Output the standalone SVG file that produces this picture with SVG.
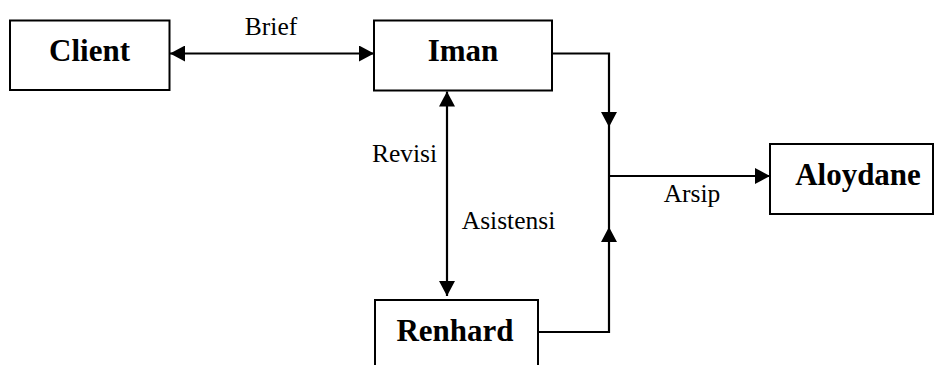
<svg xmlns="http://www.w3.org/2000/svg" width="934" height="365" viewBox="0 0 934 365">
<style>
.box{fill:#fff;stroke:#000;stroke-width:2}
.name{font-family:"Liberation Serif",serif;font-weight:bold;font-size:31px;text-anchor:middle;fill:#000}
.lbl{font-family:"Liberation Serif",serif;font-size:25.5px;text-anchor:middle;fill:#000}
.con{fill:none;stroke:#000;stroke-width:2.2}
</style>
<defs>
<marker id="ah" markerUnits="userSpaceOnUse" viewBox="0 0 15 16" refX="15" refY="8" markerWidth="15" markerHeight="16" orient="auto-start-reverse">
<path d="M0,0 L15,8 L0,16 z" fill="#000"/>
</marker>
</defs>
<rect width="934" height="365" fill="#fff"/>
<g id="connectors">
<path class="con" d="M170,53.5 H374" marker-start="url(#ah)" marker-end="url(#ah)"/>
<path class="con" d="M552,53.5 H609 V127" marker-end="url(#ah)"/>
<path class="con" d="M609,127 V227"/>
<path class="con" d="M609,176 H770" marker-end="url(#ah)"/>
<path class="con" d="M538,332 H609 V227" marker-end="url(#ah)"/>
<path class="con" d="M447,91.5 V296" marker-start="url(#ah)" marker-end="url(#ah)"/>
<text class="lbl" x="271" y="35">Brief</text>
<text class="lbl" x="404.5" y="162">Revisi</text>
<text class="lbl" x="508.5" y="229">Asistensi</text>
<text class="lbl" x="692" y="202">Arsip</text>
</g>
<g id="client">
<rect class="box" x="10" y="20.5" width="159.5" height="69.5"/>
<text class="name" x="89.5" y="61">Client</text>
</g>
<g id="iman">
<rect class="box" x="374" y="20.5" width="178" height="70"/>
<text class="name" x="463" y="61">Iman</text>
</g>
<g id="aloydane">
<rect class="box" x="770" y="144" width="163" height="70"/>
<text class="name" x="858" y="184.5">Aloydane</text>
</g>
<g id="renhard">
<rect class="box" x="375" y="300" width="163" height="80"/>
<text class="name" x="455" y="341">Renhard</text>
</g>
</svg>
